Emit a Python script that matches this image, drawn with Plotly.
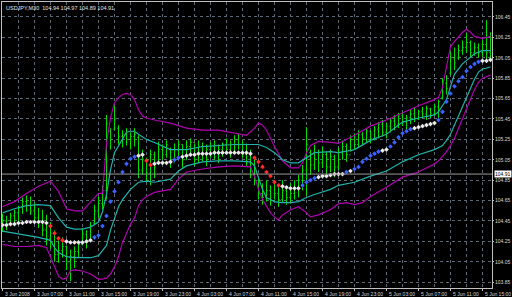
import plotly.graph_objects as go

# ---- data (USDJPY M30, 3 Jun 03:00 .. 5 Jun 16:00, one bar per index) ----
bar_open = [104.40,104.45,104.42,104.50,104.53,104.58,104.64,104.60,104.55,104.48,
            104.45,104.36,104.28,104.33,104.12,104.16,104.20,104.05,104.10,104.15,
            104.22,104.32,104.26,104.43,104.55,104.62,104.75,105.33,105.35,105.36,
            105.28,105.30,105.25,105.28,105.27,104.95,105.05,104.92,105.10,105.02,
            105.15,105.10,105.15,105.02,105.15,105.20,105.05,105.18,105.22,105.05,
            105.18,105.10,105.15,105.18,105.12,105.15,105.20,105.15,105.20,105.25,
            105.20,105.10,105.02,104.90,104.85,104.72,104.68,104.75,104.65,104.72,
            104.66,104.75,104.68,104.72,104.78,104.85,104.95,105.12,105.00,105.12,
            105.02,105.10,104.98,105.08,104.98,105.12,105.18,105.10,105.25,105.20,
            105.30,105.25,105.33,105.26,105.35,105.40,105.32,105.38,105.43,105.40,
            105.48,105.42,105.46,105.50,105.45,105.52,105.50,105.55,105.50,105.57,
            105.66,105.80,105.90,106.05,106.05,106.12,106.15,106.20,106.10,106.15,
            106.10,106.18,106.10]
bar_high = [104.52,104.50,104.53,104.56,104.60,104.68,104.70,104.69,104.63,104.58,
            104.56,104.51,104.44,104.36,104.26,104.29,104.21,104.17,104.20,104.26,
            104.38,104.36,104.44,104.61,104.69,104.80,105.49,105.36,105.58,105.39,
            105.34,105.36,105.32,105.36,105.29,105.15,105.07,105.15,105.13,105.23,
            105.20,105.24,105.17,105.21,105.24,105.20,105.24,105.26,105.21,105.24,
            105.22,105.20,105.22,105.24,105.20,105.22,105.26,105.24,105.29,105.31,
            105.24,105.21,105.15,105.05,104.87,104.82,104.85,104.80,104.83,104.80,
            104.85,104.79,104.82,104.85,104.90,105.00,105.37,105.15,105.20,105.15,
            105.18,105.13,105.15,105.10,105.17,105.24,105.21,105.29,105.31,105.34,
            105.32,105.36,105.34,105.38,105.42,105.44,105.41,105.46,105.49,105.51,
            105.52,105.49,105.54,105.56,105.54,105.57,105.58,105.56,105.60,105.64,
            105.85,105.88,106.11,106.15,106.18,106.22,106.29,106.22,106.20,106.19,
            106.22,106.42,106.30]
bar_low = [104.34,104.36,104.40,104.41,104.44,104.52,104.54,104.51,104.44,104.38,
           104.30,104.21,104.18,104.05,104.04,104.09,103.97,103.86,103.99,104.09,
           104.21,104.18,104.26,104.41,104.48,104.56,104.66,105.15,105.34,105.20,
           105.17,105.19,105.15,105.18,104.87,104.90,104.83,104.80,104.87,105.00,
           105.05,105.07,104.97,105.03,105.05,104.97,105.05,105.10,104.99,105.02,
           105.03,104.99,105.07,105.05,105.02,105.08,105.10,105.07,105.13,105.15,
           105.07,104.99,104.87,104.80,104.66,104.61,104.64,104.60,104.66,104.59,
           104.63,104.61,104.62,104.66,104.68,104.75,104.70,104.90,104.95,104.93,
           104.97,104.90,104.93,104.88,104.95,105.05,105.03,105.13,105.15,105.17,
           105.20,105.22,105.21,105.24,105.26,105.28,105.26,105.32,105.34,105.36,
           105.38,105.34,105.40,105.42,105.44,105.46,105.44,105.46,105.48,105.46,
           105.64,105.69,105.88,105.93,106.03,106.08,106.10,106.05,106.07,106.05,
           106.06,106.00,106.03]
bar_close = [104.45,104.42,104.50,104.53,104.58,104.64,104.60,104.55,104.48,104.45,
             104.36,104.28,104.33,104.12,104.16,104.20,104.05,104.10,104.15,104.22,
             104.32,104.26,104.40,104.55,104.62,104.75,105.40,105.25,105.45,105.28,
             105.30,105.25,105.28,105.30,104.95,105.05,104.92,105.10,104.98,105.15,
             105.10,105.20,105.02,105.15,105.20,105.05,105.18,105.22,105.05,105.18,
             105.10,105.15,105.18,105.12,105.15,105.20,105.15,105.20,105.25,105.20,
             105.10,105.02,104.90,104.85,104.72,104.68,104.75,104.65,104.72,104.66,
             104.75,104.68,104.72,104.78,104.85,104.95,105.20,105.00,105.12,105.02,
             105.10,104.98,105.08,104.98,105.12,105.18,105.10,105.25,105.20,105.30,
             105.25,105.33,105.26,105.35,105.40,105.32,105.38,105.43,105.40,105.48,
             105.42,105.46,105.50,105.45,105.52,105.50,105.55,105.50,105.57,105.62,
             105.80,105.75,106.05,106.00,106.12,106.15,106.20,106.10,106.15,106.10,
             106.18,106.10,106.25]

# dotted moving average (one value per bar)
ma_mid = [104.41,104.41,104.42,104.42,104.43,104.43,104.44,104.44,104.44,104.44,
          104.44,104.43,104.40,104.33,104.28,104.26,104.25,104.24,104.24,104.24,
          104.24,104.25,104.26,104.29,104.31,104.40,104.50,104.64,104.74,104.83,
          104.93,105.01,105.06,105.08,105.09,105.10,105.04,105.00,105.01,105.02,
          105.02,105.02,105.03,105.05,105.07,105.08,105.09,105.10,105.10,105.11,
          105.11,105.11,105.11,105.12,105.12,105.12,105.12,105.12,105.12,105.12,
          105.12,105.12,105.11,105.07,105.03,104.98,104.93,104.89,104.83,104.80,
          104.79,104.78,104.77,104.77,104.77,104.80,104.83,104.85,104.87,104.88,
          104.89,104.89,104.90,104.91,104.91,104.91,104.93,104.94,104.96,104.98,
          105.03,105.06,105.09,105.11,105.13,105.14,105.15,105.18,105.22,105.27,
          105.31,105.33,105.35,105.36,105.37,105.38,105.39,105.40,105.41,105.44,
          105.52,105.62,105.70,105.77,105.82,105.86,105.92,105.96,105.99,106.01,
          106.02,106.02,106.03]

# bands: (bar index, price) pairs
upper_outer_idx = [0,3,6,9,12,14,16,18,20,22,24,25,26,27,28,29,30,31,32,33,34,35,36,38,42,46,50,54,58,61,63,64,65,66,68,70,72,74,75,76,77,79,82,84,88,92,96,100,104,108,109,110,111,112,113,115,116,117,118,120,122]
upper_outer = [104.59,104.64,104.72,104.79,104.84,104.74,104.57,104.55,104.55,104.63,104.72,104.72,105.21,105.46,105.61,105.66,105.69,105.70,105.69,105.64,105.54,105.48,105.46,105.44,105.41,105.36,105.34,105.34,105.31,105.29,105.36,105.41,105.39,105.34,105.18,105.04,104.97,104.97,105.02,105.12,105.19,105.23,105.22,105.21,105.29,105.38,105.44,105.51,105.58,105.64,105.66,105.76,105.96,106.16,106.21,106.30,106.33,106.30,106.26,106.24,106.26]
upper_inner_idx = [0,3,6,9,12,14,16,18,20,22,24,25,26,27,28,29,30,31,32,33,34,36,38,42,46,50,54,58,62,64,66,68,70,72,74,76,78,82,84,88,92,96,100,104,108,109,110,111,112,113,115,117,118,120,122]
upper_inner = [104.53,104.57,104.60,104.61,104.60,104.48,104.39,104.37,104.37,104.39,104.44,104.54,104.71,104.95,105.12,105.19,105.25,105.32,105.33,105.33,105.30,105.25,105.22,105.15,105.15,105.18,105.19,105.20,105.20,105.20,105.17,105.12,105.05,105.02,105.02,105.07,105.12,105.13,105.12,105.15,105.24,105.30,105.42,105.46,105.49,105.52,105.58,105.64,105.77,105.89,105.99,106.06,106.09,106.12,106.12]
lower_inner_idx = [0,3,6,9,12,13,14,16,18,20,22,24,26,27,28,29,30,31,32,34,36,38,42,44,46,50,54,58,62,63,64,65,66,68,70,72,74,76,78,82,84,88,92,96,100,104,108,110,111,112,113,114,115,116,117,118,119,120,122]
lower_inner = [104.35,104.33,104.31,104.29,104.26,104.19,104.14,104.10,104.09,104.09,104.09,104.11,104.21,104.36,104.48,104.59,104.66,104.71,104.76,104.83,104.84,104.83,104.86,104.94,104.99,105.03,105.04,105.04,105.03,104.99,104.88,104.76,104.68,104.64,104.63,104.63,104.64,104.68,104.71,104.76,104.80,104.83,104.89,104.94,105.03,105.10,105.15,105.19,105.24,105.30,105.39,105.48,105.58,105.66,105.76,105.84,105.91,105.94,105.96]
lower_outer_idx = [0,3,6,9,11,12,13,14,15,16,17,18,20,22,24,25,26,27,28,29,30,31,32,33,34,35,36,38,42,44,46,50,54,58,62,63,64,65,66,67,68,69,70,72,74,76,77,79,82,84,86,88,90,92,96,100,104,108,109,110,111,112,113,114,115,116,117,118,119,120,122]
lower_outer = [104.22,104.20,104.20,104.21,104.19,104.10,104.00,103.91,103.88,103.89,103.96,103.97,103.96,103.93,103.88,103.88,103.89,103.93,104.00,104.10,104.24,104.34,104.42,104.48,104.60,104.66,104.69,104.73,104.76,104.86,104.93,104.96,104.98,104.99,104.98,104.89,104.76,104.66,104.59,104.53,104.49,104.46,104.51,104.56,104.59,104.53,104.49,104.51,104.56,104.62,104.63,104.61,104.63,104.69,104.78,104.88,104.93,105.01,105.04,105.08,105.13,105.19,105.26,105.36,105.46,105.56,105.66,105.74,105.81,105.85,105.88]

xtick_idx = [0, 8, 16, 24, 32, 40, 48, 56, 64, 72, 80, 88, 96, 104, 112, 120]
xtick_text = ["3 Jun 2008", "3 Jun 07:00", "3 Jun 11:00", "3 Jun 15:00", "3 Jun 19:00",
              "3 Jun 23:00", "4 Jun 03:00", "4 Jun 07:00", "4 Jun 11:00", "4 Jun 15:00",
              "4 Jun 19:00", "4 Jun 23:00", "5 Jun 03:00", "5 Jun 07:00", "5 Jun 11:00",
              "5 Jun 15:00"]
ytick_vals = [103.85, 104.05, 104.25, 104.45, 104.65, 104.85, 105.05, 105.25,
              105.45, 105.65, 105.85, 106.05, 106.25, 106.45]
bid_price = 104.91
title_text = "USDJPY,M30  104.94 104.97 104.89 104.91"

# ---- figure ----
idx = list(range(len(bar_close)))
GREEN = "#00dd00"
CYAN = "#20b2aa"
MAG = "#b000b0"
FONT = "Liberation Sans"
TXT = "#d8d8d8"
GRID = "#5c6875"

# colour of each MA dot from its slope
dot_colors = []
for i, v in enumerate(ma_mid):
    d = v - ma_mid[i - 1] if i > 0 else 0
    if d > 0.015:
        dot_colors.append("#3a62ff")
    elif d < -0.015:
        dot_colors.append("#ff2a2a")
    else:
        dot_colors.append("#e8e8e8")

fig = go.Figure()
fig.add_trace(go.Ohlc(x=idx, open=bar_open, high=bar_high, low=bar_low, close=bar_close,
                      increasing=dict(line=dict(color=GREEN, width=1)),
                      decreasing=dict(line=dict(color=GREEN, width=1)),
                      tickwidth=0.3, hoverinfo="skip"))
for bx, by, col in [(upper_outer_idx, upper_outer, MAG), (lower_outer_idx, lower_outer, MAG),
                    (upper_inner_idx, upper_inner, CYAN), (lower_inner_idx, lower_inner, CYAN)]:
    fig.add_trace(go.Scatter(x=bx, y=by, mode="lines", line=dict(color=col, width=1.2),
                             hoverinfo="skip"))
fig.add_trace(go.Scatter(x=idx, y=ma_mid, mode="markers",
                         marker=dict(symbol="diamond", size=3.6, color=dot_colors,
                                     line=dict(width=0)),
                         hoverinfo="skip"))

fig.add_hline(y=bid_price, line=dict(color="#9a9a9a", width=1))
fig.add_annotation(x=1, xref="paper", xanchor="left", y=bid_price, yref="y",
                   text=f"{bid_price:.2f}", showarrow=False,
                   font=dict(family=FONT, size=5, color="#000000"),
                   bgcolor="#ffffff", borderpad=0, xshift=2)
fig.add_annotation(x=0, xref="paper", xanchor="left", y=1, yref="paper", yanchor="top",
                   text=title_text, showarrow=False, xshift=2, yshift=-1,
                   font=dict(family=FONT, size=5.5, color="#e0e0e0"))

# time labels under the axis, left-aligned at their tick as in the terminal
for tv, tt in zip(xtick_idx, xtick_text):
    fig.add_annotation(x=tv, xref="x", xanchor="left", y=0, yref="paper", yanchor="top",
                       text=tt, showarrow=False, xshift=0, yshift=-1,
                       font=dict(family=FONT, size=5, color=TXT))

fig.update_layout(
    width=512, height=297,
    margin=dict(l=2, r=20, t=2, b=9),
    paper_bgcolor="#000000", plot_bgcolor="#000000",
    showlegend=False, hovermode=False,
    xaxis=dict(range=[-0.125, 122.375], rangeslider=dict(visible=False),
               tickvals=xtick_idx, showticklabels=False, ticks="outside", ticklen=2,
               tickcolor="#c0c0c0",
               showgrid=True, gridcolor=GRID, griddash="dot", gridwidth=1,
               minor=dict(tick0=0, dtick=4, showgrid=True, gridcolor=GRID,
                          griddash="dot", gridwidth=1),
               showline=True, linecolor="#c0c0c0", linewidth=1, mirror=True,
               zeroline=False, automargin=False),
    yaxis=dict(range=[103.793, 106.597], side="right", tickvals=ytick_vals,
               tickformat=".2f", ticks="outside", ticklen=1, tickcolor="#c0c0c0",
               tickfont=dict(family=FONT, size=5, color=TXT),
               showgrid=True, gridcolor=GRID, griddash="dot", gridwidth=1,
               showline=True, linecolor="#c0c0c0", linewidth=1, mirror=True,
               zeroline=False, automargin=False),
)
fig.write_html("out.html")
